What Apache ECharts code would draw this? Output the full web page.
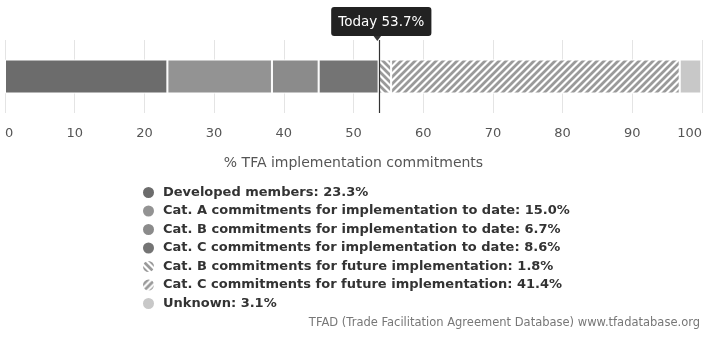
<!DOCTYPE html>
<html>
<head>
<meta charset="utf-8">
<script src="https://cdn.jsdelivr.net/npm/echarts@6/dist/echarts.min.js"></script>
<style>
html, body { margin: 0; padding: 0; background: #fff; }
#chart { width: 708px; height: 338px; }
</style>
</head>
<body>
<div id="chart"></div>
<script>
var names = ['Developed members',
	'Cat. A commitments for implementation to date',
	'Cat. B commitments for implementation to date',
	'Cat. C commitments for implementation to date',
	'Cat. B commitments for future implementation',
	'Cat. C commitments for future implementation',
	'Unknown'];
var values = [23.3, 15.0, 6.7, 8.6, 1.8, 41.4, 3.1];
var today = 53.7;
var xTicks = [0, 10, 20, 30, 40, 50, 60, 70, 80, 90, 100];

// stripes for the future commitments
function stripes(dir, col) {
	var c = document.createElement('canvas');
	c.width = 7; c.height = 7;
	var g = c.getContext('2d');
	g.fillStyle = '#fff';
	g.fillRect(0, 0, 7, 7);
	g.strokeStyle = col;
	g.lineWidth = 2.8;
	g.beginPath();
	for (var k = -7; k <= 7; k += 7) {
		if (dir == '/') {
			g.moveTo(k - 1, 8); g.lineTo(k + 8, -1);
		} else {
			g.moveTo(k - 1, -1); g.lineTo(k + 8, 8);
		}
	}
	g.stroke();
	return { image: c, repeat: 'repeat' };
}

var colors = ['#6c6c6c', '#939393', '#8b8b8b', '#747474',
	stripes('\\', '#9a9a9a'), stripes('/', '#9a9a9a'), '#c8c8c8'];

var chart = echarts.init(document.getElementById('chart'));

var series = names.map(function (n, i) {
	var s = {
		name: n,
		type: 'bar',
		stack: 'all',
		barWidth: 34,
		data: [values[i]],
		itemStyle: { color: colors[i], borderColor: '#fff', borderWidth: 1 },
		emphasis: { disabled: true }
	};
	if (i == 0) {
		s.markLine = {
			silent: true,
			symbol: ['none', 'path://M0,0 L10,0 L5,7 Z'],
			symbolSize: [9, 6],
			symbolOffset: [0, -2],
			lineStyle: { color: '#333', width: 1.2, type: 'solid' },
			label: {
				show: true,
				position: 'end',
				distance: 4,
				offset: [2, 0],
				formatter: 'Today ' + today + '%',
				color: '#fff',
				fontSize: 13.5,
				fontFamily: 'DejaVu Sans',
				backgroundColor: '#222',
				borderRadius: 3,
				padding: [8, 7, 7, 7]
			},
			data: [{ xAxis: today }]
		};
	}
	return s;
});

chart.setOption({
	animation: false,
	title: {
		text: 'TFAD (Trade Facilitation Agreement Database) www.tfadatabase.org',
		right: 3,
		bottom: 4,
		textStyle: { fontSize: 11.5, fontWeight: 'normal', color: '#777', fontFamily: 'DejaVu Sans' }
	},
	grid: { left: 5, right: 6, top: 40, bottom: 225, outerBoundsMode: 'none', containLabel: false },
	xAxis: {
		type: 'value',
		min: 0,
		max: 100,
		interval: 10,
		name: '% TFA implementation commitments',
		nameLocation: 'middle',
		nameGap: 43,
		nameTextStyle: { fontSize: 14, color: '#555', fontFamily: 'DejaVu Sans' },
		axisLine: { show: false },
		axisTick: { show: false },
		axisLabel: {
			fontSize: 13, color: '#555', margin: 14, fontFamily: 'DejaVu Sans',
			alignMinLabel: 'left', alignMaxLabel: 'right',
			formatter: function (v) { return xTicks.indexOf(v) >= 0 ? String(v) : ''; }
		},
		splitLine: { show: true, lineStyle: { color: '#e4e4e4' } }
	},
	yAxis: {
		type: 'category',
		data: ['TFA'],
		show: false
	},
	legend: {
		orient: 'vertical',
		left: 136,
		top: 180,
		icon: 'circle',
		itemWidth: 13,
		itemHeight: 13,
		itemGap: 3.5,
		selectedMode: false,
		data: names,
		formatter: function (n) {
			return n + ': ' + values[names.indexOf(n)].toFixed(1) + '%';
		},
		textStyle: { fontSize: 13, lineHeight: 14, fontWeight: 'bold', color: '#333', fontFamily: 'DejaVu Sans', padding: [0, 0, 0, 3] }
	},
	series: series
});
</script>
</body>
</html>
